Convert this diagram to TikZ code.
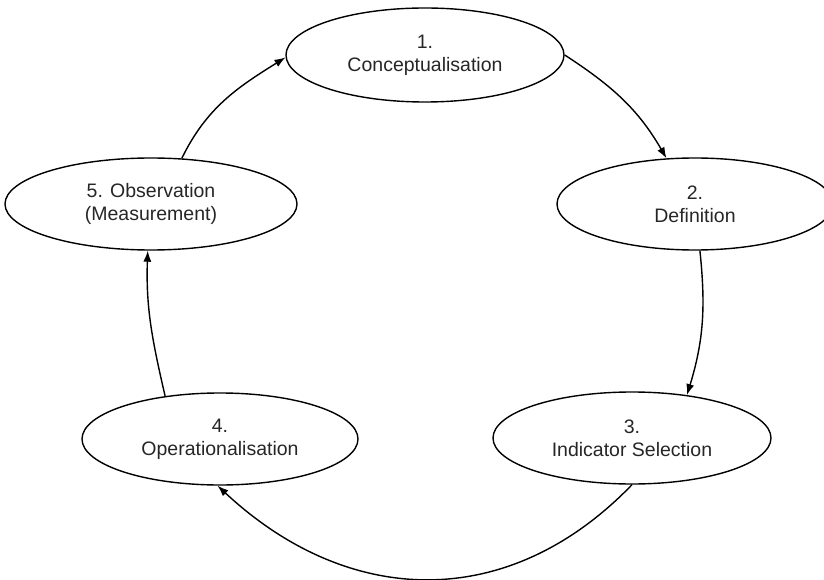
\documentclass[tikz,border=0pt]{standalone}
\usepackage{fontspec}
\setmainfont{Liberation Sans}
\usetikzlibrary{shapes.geometric,arrows.meta}
\begin{document}
\begin{tikzpicture}[x=1pt,y=1pt,
  stage/.style={draw, ellipse, line width=1.4pt, inner sep=0pt, align=center,
    font=\fontsize{19.5}{23}\selectfont, text=black!85},
  link/.style={draw, line width=1.4pt, -{Latex[length=11pt,width=8pt]}}]
\useasboundingbox (0,0) rectangle (824,579);
\node[stage, minimum width=278pt, minimum height=94pt] (n1) at (425,524) {1.\\Conceptualisation};
\node[stage, minimum width=276pt, minimum height=92pt] (n2) at (695,375) {2.\\Definition};
\node[stage, minimum width=278pt, minimum height=92pt] (n3) at (632,141) {3.\\Indicator Selection};
\node[stage, minimum width=276pt, minimum height=92pt] (n4) at (220,140) {4.\\Operationalisation};
\node[stage, minimum width=292pt, minimum height=92pt] (n5) at (151,375) {5. Observation\\(Measurement)};
\path[link] (n1.east) to[out=-33,in=120] (n2.122);
\path[link] (n2.-84) to[out=-84,in=73] (n3.38);
\path[link] (n3.south) to[out=-134,in=-43,looseness=1.1] (n4.-93);
\path[link] (n4.142) to[out=103,in=-92] (n5.-94);
\path[link] (n5.56) to[out=64,in=212] (n1.181);
\end{tikzpicture}
\end{document}
